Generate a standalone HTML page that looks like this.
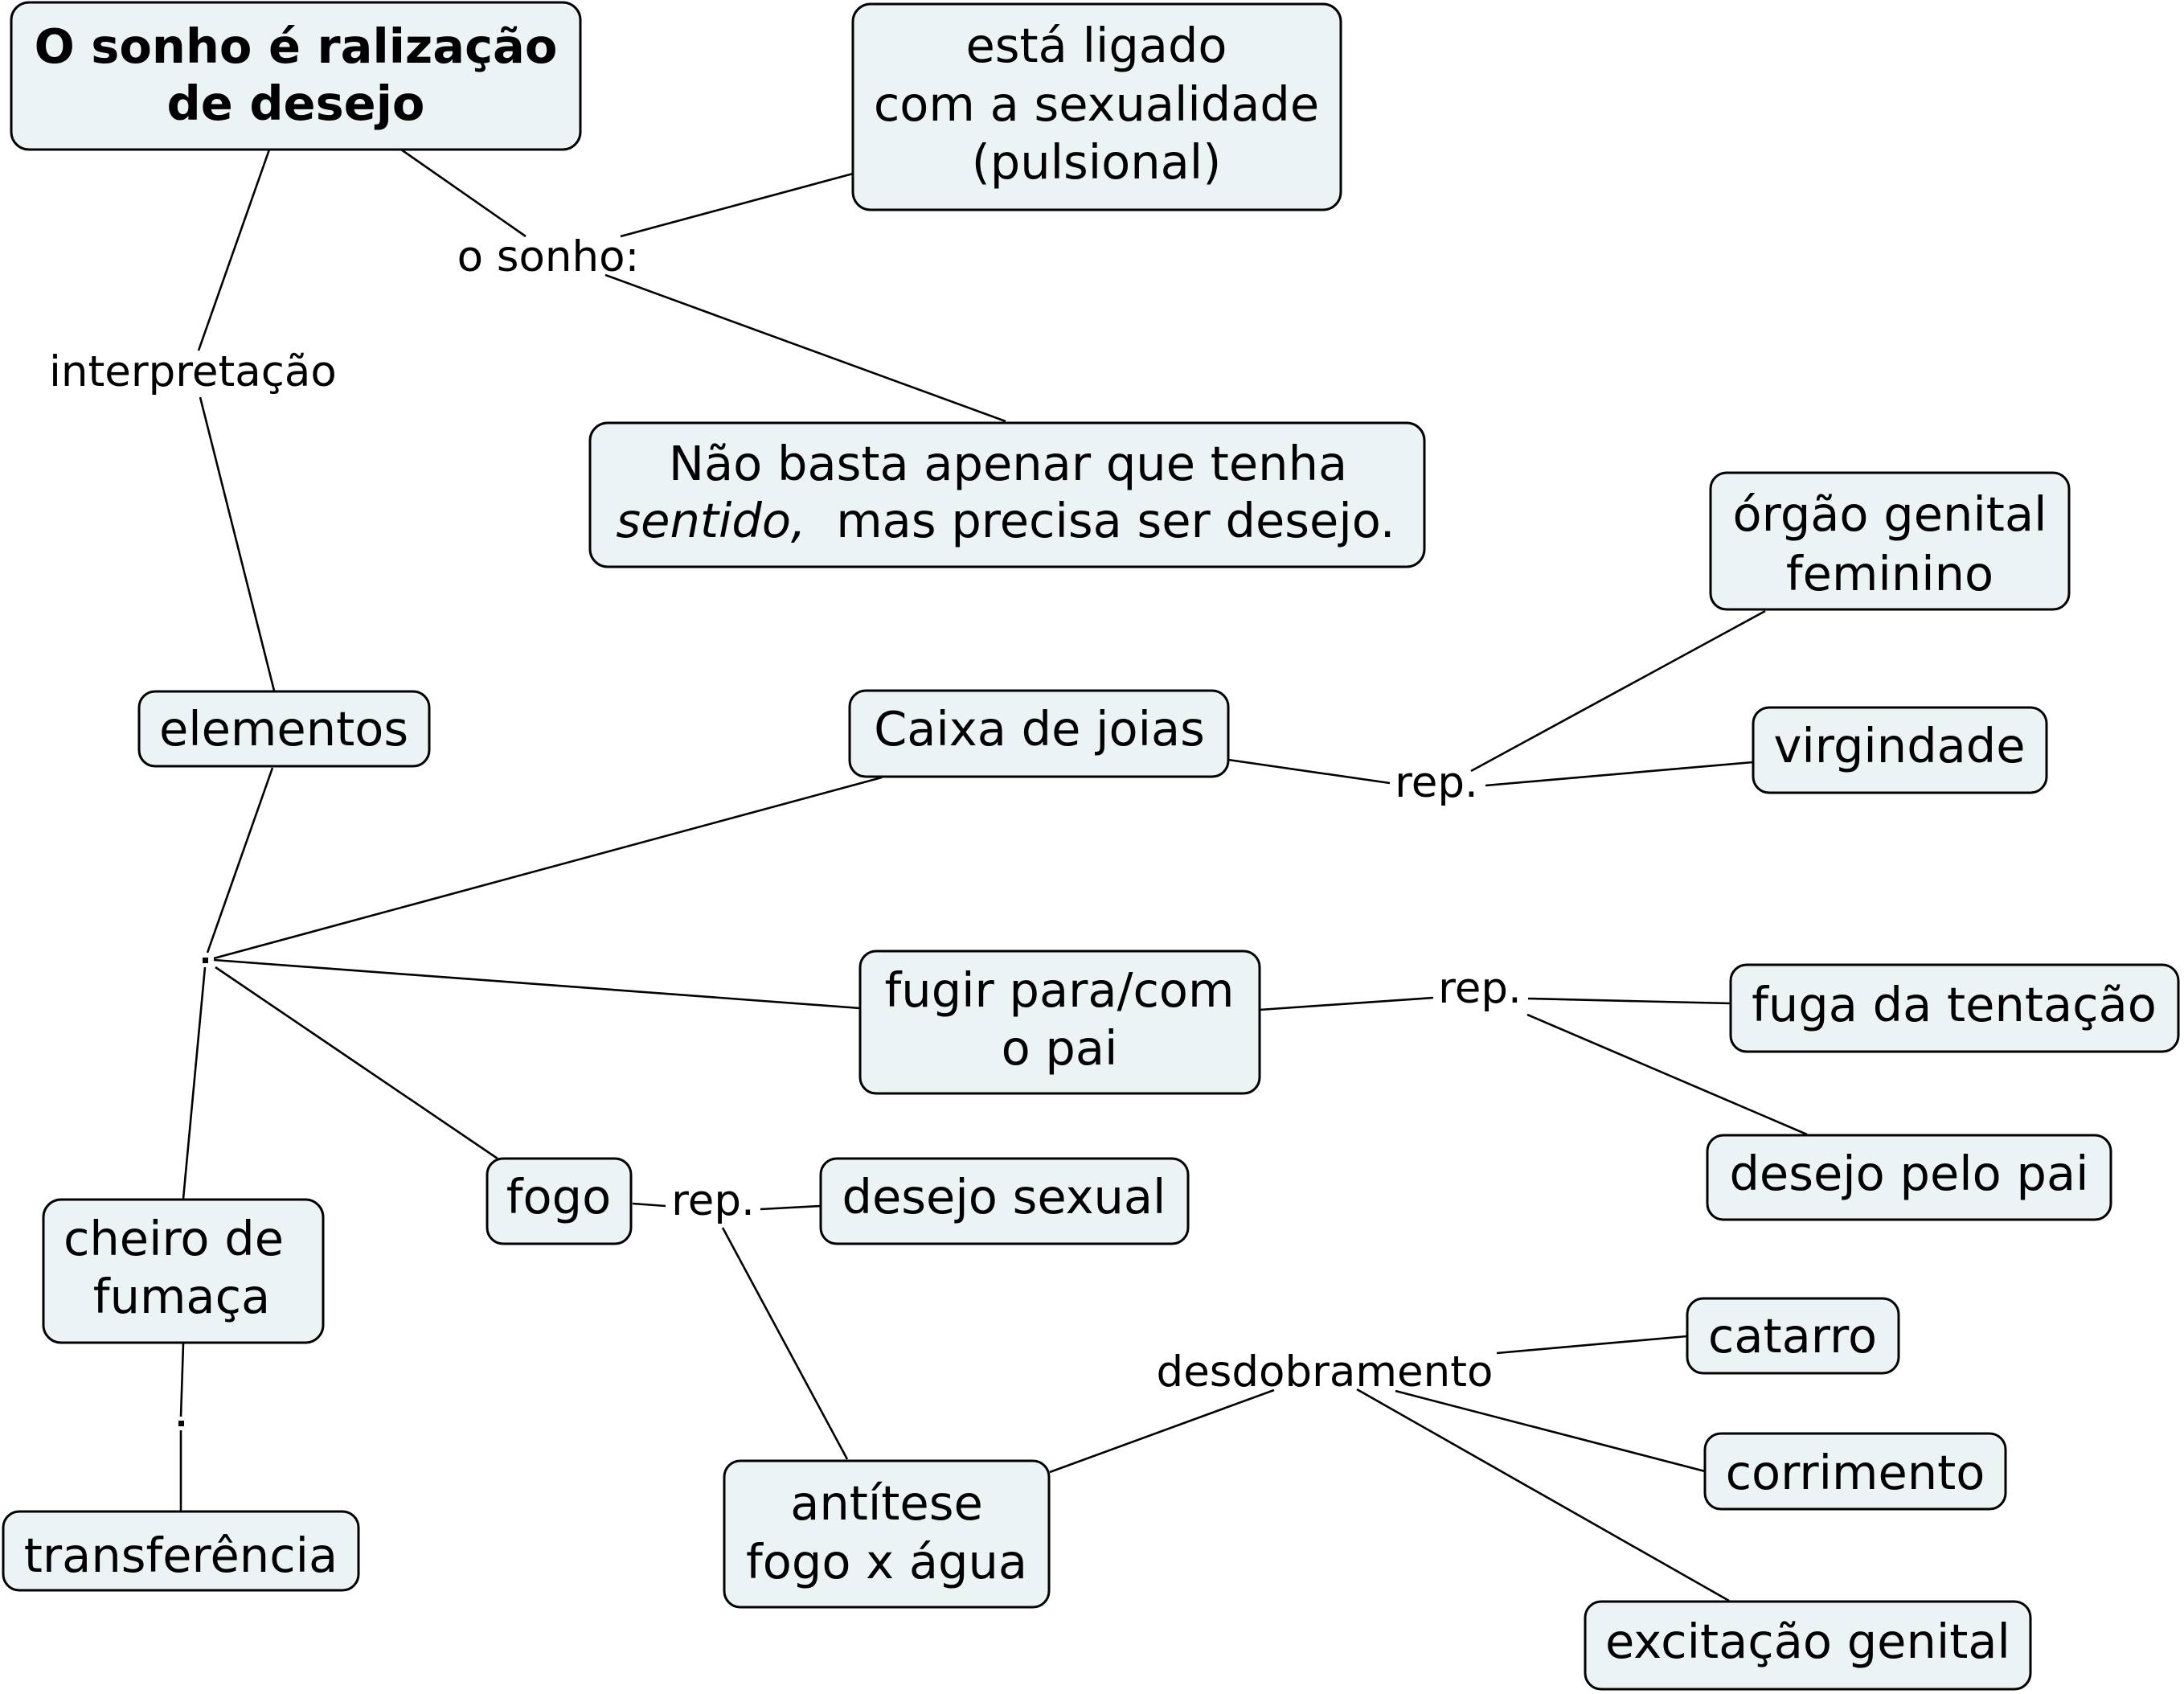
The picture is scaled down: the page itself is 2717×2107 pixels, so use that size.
<!DOCTYPE html>
<html>
<head>
<meta charset="utf-8">
<style>
  html, body { margin: 0; padding: 0; background: #ffffff; }
  svg { display: block; }
  .box { fill: #ebf3f5; stroke: #000; stroke-width: 3; }
  .ln { stroke: #000; stroke-width: 2.6; fill: none; }
  .t { font-family: "DejaVu Sans", "Liberation Sans", sans-serif; font-size: 59px; fill: #000; text-anchor: middle; }
  .l { font-family: "DejaVu Sans", "Liberation Sans", sans-serif; font-size: 53px; fill: #000; text-anchor: middle; }
  .b { font-weight: bold; }
</style>
</head>
<body>
<svg width="2717" height="2107" viewBox="0 0 2717 2107" xmlns="http://www.w3.org/2000/svg">
  <!-- connectors -->
  <line class="ln" x1="335" y1="186" x2="247" y2="436"/>
  <line class="ln" x1="249" y1="494" x2="341" y2="859"/>
  <line class="ln" x1="499" y1="186" x2="654" y2="294"/>
  <line class="ln" x1="772" y1="294" x2="1061" y2="216"/>
  <line class="ln" x1="753" y1="342" x2="1251" y2="524"/>
  <line class="ln" x1="339" y1="955" x2="258" y2="1185"/>
  <line class="ln" x1="266" y1="1192" x2="1097" y2="967"/>
  <line class="ln" x1="266" y1="1194" x2="1070" y2="1254"/>
  <line class="ln" x1="268" y1="1203" x2="619" y2="1441"/>
  <line class="ln" x1="255" y1="1203" x2="228" y2="1491"/>
  <line class="ln" x1="1528" y1="945" x2="1729" y2="974"/>
  <line class="ln" x1="1830" y1="959" x2="2196" y2="760"/>
  <line class="ln" x1="1848" y1="977" x2="2181" y2="948"/>
  <line class="ln" x1="1567" y1="1256" x2="1783" y2="1241"/>
  <line class="ln" x1="1901" y1="1242" x2="2153" y2="1248"/>
  <line class="ln" x1="1900" y1="1262" x2="2248" y2="1411"/>
  <line class="ln" x1="787" y1="1497" x2="828" y2="1500"/>
  <line class="ln" x1="946" y1="1504" x2="1021" y2="1500"/>
  <line class="ln" x1="899" y1="1527" x2="1054" y2="1815"/>
  <line class="ln" x1="1306" y1="1831" x2="1585" y2="1729"/>
  <line class="ln" x1="1862" y1="1683" x2="2099" y2="1662"/>
  <line class="ln" x1="1736" y1="1730" x2="2121" y2="1830"/>
  <line class="ln" x1="1688" y1="1728" x2="2151" y2="1991"/>
  <line class="ln" x1="228" y1="1671" x2="225" y2="1762"/>
  <line class="ln" x1="225" y1="1779" x2="225" y2="1880"/>

  <!-- junction dots -->
  <rect x="252" y="1191" width="7" height="7" fill="#000"/>
  <rect x="222" y="1767" width="7" height="7" fill="#000"/>

  <!-- nodes -->
  <rect class="box" x="14" y="3" width="708" height="183" rx="22"/>
  <text class="t b" x="368" y="78">O sonho é ralização</text>
  <text class="t b" x="368" y="149">de desejo</text>

  <rect class="box" x="1061" y="5" width="607" height="256" rx="22"/>
  <text class="t" x="1364" y="77">está ligado</text>
  <text class="t" x="1364" y="150">com a sexualidade</text>
  <text class="t" x="1364" y="222">(pulsional)</text>

  <rect class="box" x="734" y="526" width="1038" height="179" rx="22"/>
  <text class="t" x="1254" y="597">Não basta apenar que tenha</text>
  <text class="t" x="1251" y="668" xml:space="preserve"><tspan font-style="italic">sentido,</tspan>  mas precisa ser desejo.</text>

  <rect class="box" x="173" y="860" width="361" height="93" rx="20"/>
  <text class="t" x="353" y="927">elementos</text>

  <rect class="box" x="1057" y="859" width="471" height="107" rx="20"/>
  <text class="t" x="1293" y="927">Caixa de joias</text>

  <rect class="box" x="2128" y="588" width="446" height="170" rx="20"/>
  <text class="t" x="2351" y="660">órgão genital</text>
  <text class="t" x="2351" y="734">feminino</text>

  <rect class="box" x="2181" y="880" width="365" height="106" rx="20"/>
  <text class="t" x="2363" y="948">virgindade</text>

  <rect class="box" x="1070" y="1183" width="497" height="177" rx="20"/>
  <text class="t" x="1318" y="1252">fugir para/com</text>
  <text class="t" x="1318" y="1324">o pai</text>

  <rect class="box" x="2153" y="1200" width="557" height="108" rx="20"/>
  <text class="t" x="2431" y="1270">fuga da tentação</text>

  <rect class="box" x="2124" y="1412" width="502" height="105" rx="20"/>
  <text class="t" x="2375" y="1480">desejo pelo pai</text>

  <rect class="box" x="606" y="1441" width="179" height="106" rx="20"/>
  <text class="t" x="695" y="1509">fogo</text>

  <rect class="box" x="1021" y="1441" width="457" height="106" rx="20"/>
  <text class="t" x="1249" y="1509">desejo sexual</text>

  <rect class="box" x="901" y="1817" width="404" height="182" rx="20"/>
  <text class="t" x="1103" y="1890">antítese</text>
  <text class="t" x="1103" y="1963">fogo x água</text>

  <rect class="box" x="2099" y="1615" width="263" height="93" rx="20"/>
  <text class="t" x="2230" y="1682">catarro</text>

  <rect class="box" x="2121" y="1783" width="374" height="94" rx="20"/>
  <text class="t" x="2308" y="1852">corrimento</text>

  <rect class="box" x="1972" y="1992" width="554" height="109" rx="20"/>
  <text class="t" x="2249" y="2062">excitação genital</text>

  <rect class="box" x="54" y="1492" width="348" height="178" rx="22"/>
  <text class="t" x="216" y="1561">cheiro de</text>
  <text class="t" x="226" y="1633">fumaça</text>

  <rect class="box" x="4" y="1880" width="442" height="98" rx="20"/>
  <text class="t" x="225" y="1955">transferência</text>

  <!-- linking phrases -->
  <text class="l" x="240" y="480">interpretação</text>
  <text class="l" x="682" y="337">o sonho:</text>
  <text class="l" x="1787" y="991">rep.</text>
  <text class="l" x="1841" y="1247">rep.</text>
  <text class="l" x="887" y="1511">rep.</text>
  <text class="l" x="1648" y="1724">desdobramento</text>
</svg>
</body>
</html>
